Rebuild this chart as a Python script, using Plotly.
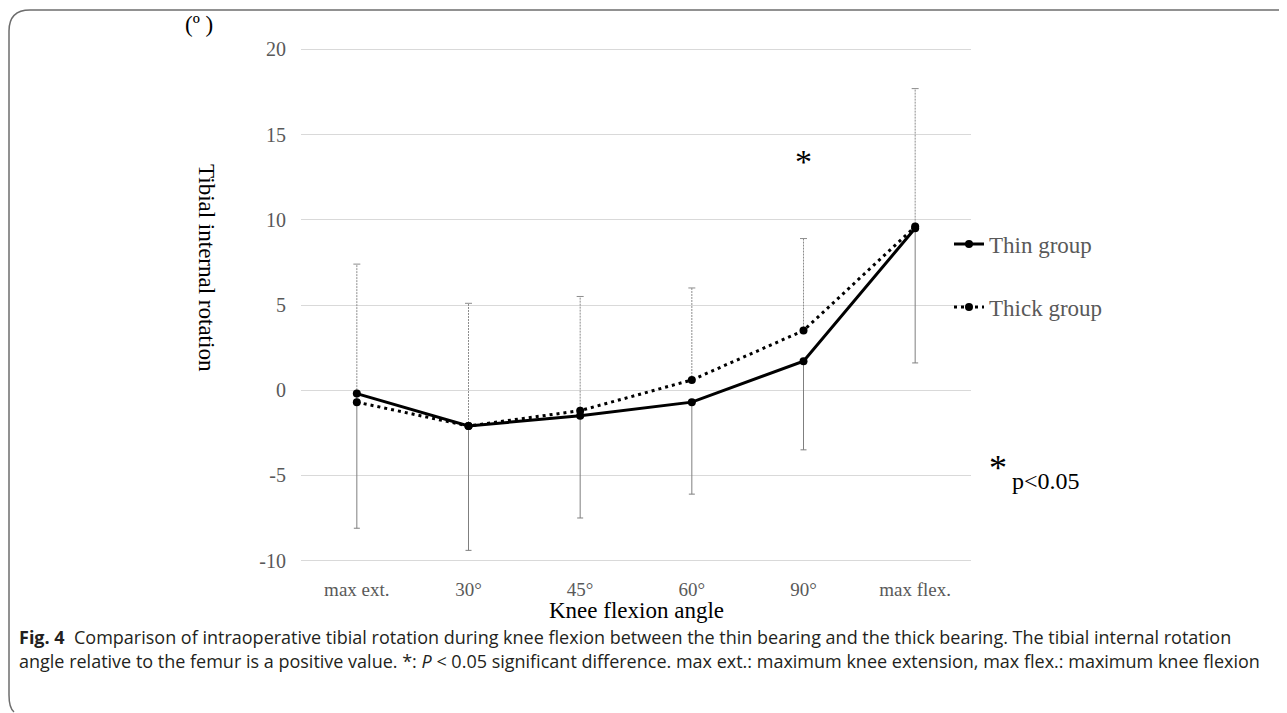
import plotly.graph_objects as go

categories = ["max ext.", "30°", "45°", "60°", "90°", "max flex."]
thin_mean = [-0.2, -2.1, -1.5, -0.7, 1.7, 9.5]
thin_sd = [7.9, 7.3, 6.0, 5.4, 5.2, 7.9]
thick_mean = [-0.7, -2.1, -1.2, 0.6, 3.5, 9.6]
thick_sd = [8.1, 7.2, 6.7, 5.4, 5.4, 8.1]
y_ticks = [-10, -5, 0, 5, 10, 15, 20]

OFF = 8  # page body margin
W, H = 1287 - OFF, 713 - OFF
L, T = 301 - OFF, 46 - OFF
PW, PH = 670, 518
R, B = W - L - PW, H - T - PH


def px(x):
    return (x - OFF - L) / PW


def py(y):
    return (T + PH - (y - OFF)) / PH


SERIF = "Liberation Serif, Times New Roman, serif"
GRAY = "#595959"

fig = go.Figure()

# dotted upper error bars for thick group
ex, ey = [], []
for c, m, s in zip(categories, thick_mean, thick_sd):
    ex += [c, c, None]
    ey += [m, m + s, None]
fig.add_trace(go.Scatter(x=ex, y=ey, mode="lines", line=dict(color="#8c8c8c", width=1, dash="2px,1px"),
                         showlegend=False, hoverinfo="skip"))
fig.add_trace(go.Scatter(x=categories, y=[m + s for m, s in zip(thick_mean, thick_sd)], mode="markers",
                         marker=dict(symbol="line-ew", size=5, line=dict(color="#8c8c8c", width=1)),
                         showlegend=False, hoverinfo="skip"))

# thin group with lower error bars
fig.add_trace(go.Scatter(
    x=categories, y=thin_mean, mode="lines+markers", name="Thin group",
    line=dict(color="black", width=3), marker=dict(color="black", size=8),
    error_y=dict(type="data", symmetric=False, array=[0] * 6, arrayminus=thin_sd,
                 color="#7f7f7f", thickness=1, width=3),
    legend="legend"))

fig.add_trace(go.Scatter(
    x=categories, y=thick_mean, mode="lines+markers", name="Thick group",
    line=dict(color="black", width=3, dash="3px,4px"), marker=dict(color="black", size=8),
    legend="legend2"))

fig.update_layout(
    width=W, height=H,
    margin=dict(l=L, r=R, t=T, b=B),
    paper_bgcolor="white", plot_bgcolor="white",
    font=dict(family=SERIF, color=GRAY, size=19),
    xaxis=dict(type="category", range=[-0.5, 5.5], showgrid=False, zeroline=False, showline=False,
               ticks="", ticklabelstandoff=12, tickfont=dict(size=19, color=GRAY, family=SERIF)),
    yaxis=dict(range=[-10.2, 20.2], tickvals=y_ticks, ticktext=[str(v) for v in y_ticks],
               showgrid=True, gridcolor="#d9d9d9", gridwidth=1, zeroline=False, showline=False,
               ticks="", ticklabelstandoff=14, tickfont=dict(size=20, color=GRAY, family=SERIF)),
    legend=dict(x=px(949), y=py(244), xanchor="left", yanchor="middle", bgcolor="rgba(0,0,0,0)",
                font=dict(size=23, color=GRAY, family=SERIF), itemwidth=30),
    legend2=dict(x=px(949), y=py(307), xanchor="left", yanchor="middle", bgcolor="rgba(0,0,0,0)",
                 font=dict(size=23, color=GRAY, family=SERIF), itemwidth=30),
    showlegend=True,
)


def note(x, y, text, size, xanchor="center", family=SERIF, color="black", **kw):
    return dict(x=px(x), y=py(y), xref="paper", yref="paper", text=text, showarrow=False,
                xanchor=xanchor, yanchor="middle", font=dict(size=size, color=color, family=family), **kw)


ann = []
ann.append(dict(x=categories[4], y=13.4, xref="x", yref="y", text="*", showarrow=False,
                xanchor="center", yanchor="middle",
                font=dict(size=34, color="black", family=SERIF)))
ann.append(note(199, 24, "(º )", 23))
ann.append(note(207, 268, "Tibial internal rotation", 23, textangle=90))
ann.append(note(636, 610, "Knee flexion angle", 23))
ann.append(note(987, 468, "*", 36, xanchor="left"))
ann.append(note(1010, 481, "p<0.05", 24, xanchor="left"))

CAP = "Open Sans, Noto Sans, sans-serif"
ann.append(note(17, 637,
                "<b>Fig. 4</b>  Comparison of intraoperative tibial rotation during knee flexion between the thin bearing and the thick bearing. The tibial internal rotation",
                18.0, xanchor="left", family=CAP, color="#231f20"))
ann.append(note(17, 661,
                "angle relative to the femur is a positive value. *: <i>P</i> < 0.05 significant difference. max ext.: maximum knee extension, max flex.: maximum knee flexion",
                18.0, xanchor="left", family=CAP, color="#231f20"))
fig.update_layout(annotations=ann)

# frame around figure (rounded top-left corner)
path = (f"M {px(1295)},{py(10)} L {px(30)},{py(10)} Q {px(9)},{py(10)} {px(9)},{py(31)} "
        f"L {px(9)},{py(695)} Q {px(9)},{py(708)} {px(14)},{py(712)}")
fig.add_shape(type="path", path=path, xref="paper", yref="paper",
              line=dict(color="#6d6d6d", width=1.5))

fig.write_html("out.html")
